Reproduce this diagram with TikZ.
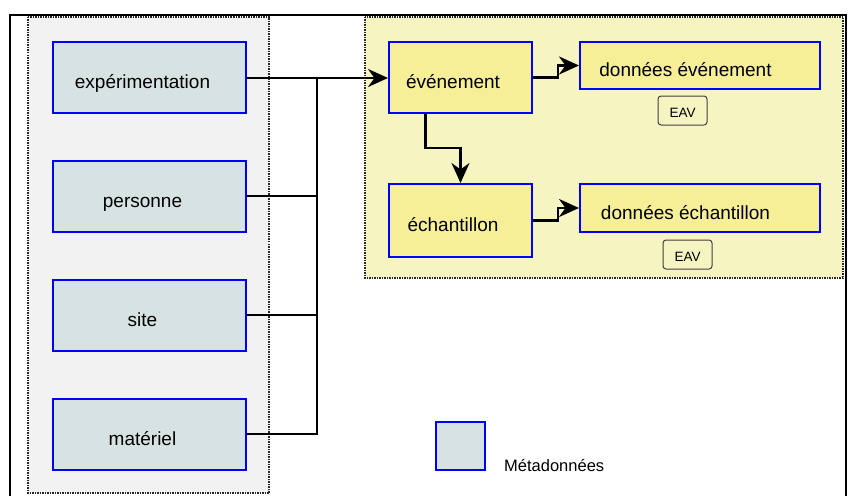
\documentclass[tikz,border=0pt]{standalone}
\usepackage{fontspec}
\setmainfont{Liberation Sans}
\usetikzlibrary{arrows.meta}
\definecolor{panelgray}{HTML}{F2F2F2}
\definecolor{panelyel}{HTML}{F6F4C1}
\definecolor{metafill}{HTML}{D7E3E3}
\definecolor{evtfill}{HTML}{F7EF97}
\definecolor{boxblue}{HTML}{0000FF}
\begin{document}
\begin{tikzpicture}[x=1pt,y=-1pt,
	every node/.style={font=\fontsize{19}{22}\selectfont,text height=26pt,text depth=4pt},
	meta/.style={rectangle,draw=boxblue,line width=2pt,fill=metafill,minimum width=193pt,minimum height=71pt,execute at end node=\hspace*{14pt}},
	evt/.style={rectangle,draw=boxblue,line width=2pt,fill=evtfill,execute at end node=\hspace*{#1}},
	eav/.style={rectangle,rounded corners=3pt,draw=black!75,line width=1pt,fill=panelyel,minimum width=49pt,minimum height=29pt,font=\fontsize{13.5}{16}\selectfont,text height=14pt,text depth=0pt},
	panel/.style={draw=black!85,line width=1.5pt,dash pattern=on 1.5pt off 1pt},
	bus/.style={line width=1.6pt},
	arr/.style={line width=2.6pt,-{Stealth[length=20pt,width=18pt,inset=6.5pt]}}]
	\clip (0,0) rectangle (853,495);
	\draw[line width=2pt] (10,15) rectangle (846,520);
	\draw[panel,fill=panelgray] (28,17) rectangle (269,493);
	\draw[panel,fill=panelyel] (365,17) rectangle (843,278);
	
	\node[meta] (n1) at (149.5,77.5) {expérimentation};
	\node[meta] (n2) at (149.5,196) {personne};
	\node[meta] (n3) at (149.5,315) {site};
	\node[meta] (n4) at (149.5,434) {matériel};
	
	\node[evt=15pt,minimum width=143pt,minimum height=71pt] (n5) at (460.5,77.5) {événement};
	\node[evt=15pt,minimum width=143pt,minimum height=73pt] (n7) at (460.5,220.5) {échantillon};
	\node[evt=29pt,minimum width=240pt,minimum height=47pt] (n6) at (700,65.5) {données événement};
	\node[evt=29pt,minimum width=240pt,minimum height=48pt] (n8) at (700,208) {données échantillon};
	\node[eav] (e1) at (682.5,110.5) {EAV};
	\node[eav] (e2) at (687.5,254.5) {EAV};
	
	\node[meta,minimum width=49pt,minimum height=48pt] (l1) at (460.5,446) {};
	\node[font=\fontsize{16.5}{19}\selectfont,text height=12pt,text depth=0pt,inner sep=0pt,anchor=base west] (l2) at (504,471) {Métadonnées};
	
	\coordinate (b1) at (317,78);
	\draw[bus] (n1.east |- b1) -- (b1);
	\draw[bus] (n4) -| (b1);
	\draw[bus] (n2) -- (n2 -| b1);
	\draw[bus] (n3) -- (n3 -| b1);
	\draw[arr] (b1) -- (b1 -| n5.west);
	
	\draw[arr] (n5.east) -- ++(25,0) |- (n6.west);
	\draw[arr] (n7.east) -- ++(25,0) |- (n8.west);
	\draw[arr] ([xshift=-35pt]n5.south) -- ++(0,34) -| (n7.north);
\end{tikzpicture}
\end{document}
